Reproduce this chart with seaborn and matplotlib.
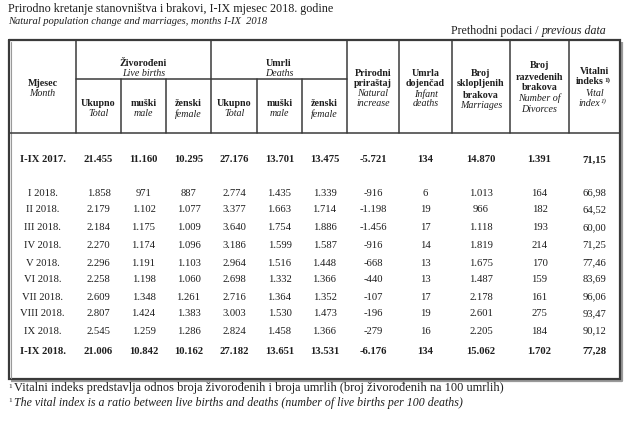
import matplotlib
matplotlib.use("Agg")
import matplotlib.pyplot as plt
import seaborn as sns

sns.set_theme(style="white")
plt.rcParams['font.family'] = ['Liberation Serif', 'DejaVu Serif']

# ---------------- data ----------------
months = ["I-IX 2017.", "I 2018.", "II 2018.", "III 2018.", "IV 2018.", "V 2018.",
          "VI 2018.", "VII 2018.", "VIII 2018.", "IX 2018.", "I-IX 2018."]
births_total = [21455, 1858, 2179, 2184, 2270, 2296, 2258, 2609, 2807, 2545, 21006]
births_male = [11160, 971, 1102, 1175, 1174, 1191, 1198, 1348, 1424, 1259, 10842]
births_female = [10295, 887, 1077, 1009, 1096, 1103, 1060, 1261, 1383, 1286, 10162]
deaths_total = [27176, 2774, 3377, 3640, 3186, 2964, 2698, 2716, 3003, 2824, 27182]
deaths_male = [13701, 1435, 1663, 1754, 1599, 1516, 1332, 1364, 1530, 1458, 13651]
deaths_female = [13475, 1339, 1714, 1886, 1587, 1448, 1366, 1352, 1473, 1366, 13531]
natural_increase = [-5721, -916, -1198, -1456, -916, -668, -440, -107, -196, -279, -6176]
infant_deaths = [134, 6, 19, 17, 14, 13, 13, 17, 19, 16, 134]
marriages = [14870, 1013, 966, 1118, 1819, 1675, 1487, 2178, 2601, 2205, 15062]
divorces = [1391, 164, 182, 193, 214, 170, 159, 161, 275, 184, 1702]
vital_index = [71.15, 66.98, 64.52, 60.00, 71.25, 77.46, 83.69, 96.06, 93.47, 90.12, 77.28]
bold_rows = ["I-IX 2017.", "I-IX 2018."]

title_bs = "Prirodno kretanje stanovništva i brakovi, I-IX mjesec 2018. godine"
title_en = "Natural population change and marriages, months I-IX  2018"
note_bs = "Vitalni indeks predstavlja odnos broja živorođenih i broja umrlih (broj živorođenih na 100 umrlih)"
note_en = "The vital index is a ratio between live births and deaths (number of live births per 100 deaths)"

def fmt_int(v):
    s = f"{abs(v):,}".replace(",", ".")
    return ("-" if v < 0 else "") + s

def fmt_dec(v):
    return f"{v:.2f}".replace(".", ",")

# ---------------- layout ----------------
W, H = 632, 430
fig = plt.figure(figsize=(W / 100, H / 100), dpi=100)
ax = fig.add_axes([0, 0, 1, 1])
ax.set_xlim(0, W)
ax.set_ylim(H, 0)
ax.axis("off")

TXT = "#1e1e1e"
LINE = "#3a3a3a"

L, R, T, B = 9, 620, 40, 379
HB = 133  # header bottom
SUB = 79  # sub-header line
cols = [L, 76, 121, 166, 211, 257, 302, 347, 399, 452, 510, 569, R]
centers = [(cols[i] + cols[i + 1]) / 2 for i in range(len(cols) - 1)]

# titles
ax.text(8, 9, title_bs, fontsize=8.7, color=TXT, va="center", ha="left")
ax.text(8, 21, title_en, fontsize=7.6, color=TXT, va="center", ha="left", style="italic")
t_it = ax.text(606, 31, "previous data", fontsize=8.6, color=TXT, va="center", ha="right", style="italic")
rend = fig.canvas.get_renderer()
bb = t_it.get_window_extent(renderer=rend)
x_split = 606 - bb.width
ax.text(x_split, 31, "Prethodni podaci / ", fontsize=8.6, color=TXT, va="center", ha="right")

# outer border (shadowed)
ax.plot([L + 2, R + 2, R + 2], [B + 2, B + 2, T + 2], color="#9a9a9a", lw=1.6, solid_capstyle="butt")
ax.plot([L, R, R, L, L], [T, T, B, B, T], color=LINE, lw=1.6, solid_joinstyle="miter")
ax.plot([L + 2, L + 2], [T + 2, B - 1], color="#9a9a9a", lw=0.8)
# header lines
ax.plot([L, R], [HB, HB], color=LINE, lw=1.1)
ax.plot([cols[1], cols[7]], [SUB, SUB], color=LINE, lw=1.1)
for i, x in enumerate(cols[1:-1], start=1):
    top = SUB if x in (121, 166, 257, 302) else T
    ax.plot([x, x], [top, HB], color=LINE, lw=1.1)

hs = 7.2
def head(x, y, s, bold=True):
    ax.text(x, y, s, fontsize=hs, color=TXT, ha="center", va="center",
            fontweight="bold" if bold else "normal", style="normal" if bold else "italic")

head(centers[0], 84, "Mjesec")
head(centers[0], 94, "Month", False)
head((cols[1] + cols[4]) / 2, 63, "Živorođeni")
head((cols[1] + cols[4]) / 2, 73, "Live births", False)
head((cols[4] + cols[7]) / 2, 63, "Umrli")
head((cols[4] + cols[7]) / 2, 73, "Deaths", False)
for k, (a, b) in enumerate([("Ukupno", "Total"), ("muški", "male"), ("ženski", "female")] * 2):
    head(centers[1 + k], 104, a)
    head(centers[1 + k], 114, b, False)
for y, s, bd in [(73, "Prirodni", True), (84, "priraštaj", True), (94, "Natural", False), (104, "increase", False)]:
    head(centers[7], y, s, bd)
for y, s, bd in [(73, "Umrla", True), (84, "dojenčad", True), (94, "Infant", False), (104, "deaths", False)]:
    head(centers[8], y, s, bd)
for y, s, bd in [(73, "Broj", True), (84, "sklopljenih", True), (95, "brakova", True), (106, "Marriages", False)]:
    head(centers[9], y, s, bd)
for y, s, bd in [(66, "Broj", True), (77, "razvedenih", True), (88, "brakova", True), (98, "Number of", False), (109, "Divorces", False)]:
    head(centers[10], y, s, bd)
for y, s, bd in [(72, "Vitalni", True), (93, "Vital", False)]:
    head(centers[11], y, s, bd)
ax.text(centers[11] + 9, 82, "indeks", fontsize=hs, color=TXT, ha="right", va="center", fontweight="bold")
ax.text(centers[11] + 9.5, 80, "1)", fontsize=5.0, color=TXT, ha="left", va="center", fontweight="bold")
ax.text(centers[11] + 6, 103, "index", fontsize=hs, color=TXT, ha="right", va="center", style="italic")
ax.text(centers[11] + 6.5, 101, "1)", fontsize=5.0, color=TXT, ha="left", va="center", style="italic")

# body
row_y = [160, 193, 210, 228, 245, 263, 279, 297, 314, 331, 351]
series = [births_total, births_male, births_female, deaths_total, deaths_male, deaths_female,
          natural_increase, infant_deaths, marriages, divorces]
for r, m in enumerate(months):
    fw = "bold" if m in bold_rows else "normal"
    fs = 7.7
    ax.text(centers[0], row_y[r], m, fontsize=fs, color=TXT, ha="center", va="center", fontweight=fw)
    for c, s in enumerate(series):
        ax.text(centers[1 + c], row_y[r], fmt_int(s[r]), fontsize=fs, color=TXT,
                ha="center", va="center", fontweight=fw)
    ax.text(centers[11], row_y[r], fmt_dec(vital_index[r]), fontsize=fs, color=TXT,
            ha="center", va="center", fontweight=fw)

# footnotes
ax.text(8, 386, "1", fontsize=5.2, color=TXT, ha="left", va="center")
ax.text(14, 388, note_bs, fontsize=8.9, color=TXT, ha="left", va="center")
ax.text(8, 401, "1", fontsize=5.2, color=TXT, ha="left", va="center")
ax.text(14, 403, note_en, fontsize=8.6, color=TXT, ha="left", va="center", style="italic")

fig.savefig("out.png", dpi=100, facecolor="white")
